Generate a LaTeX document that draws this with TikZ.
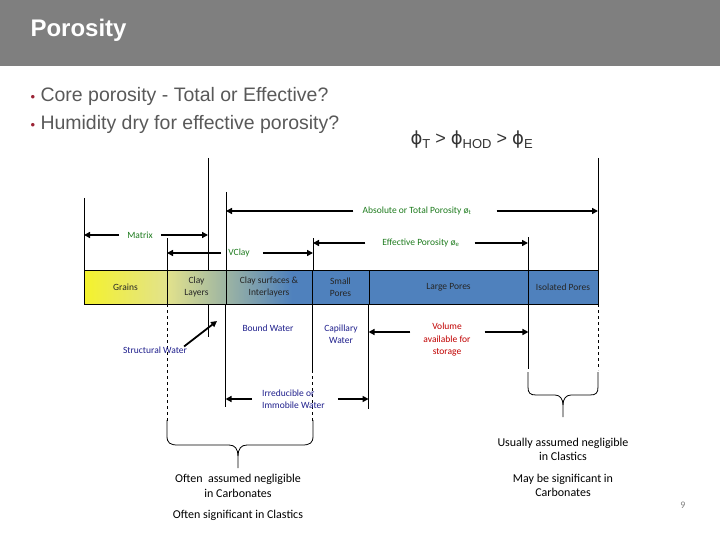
\documentclass[tikz,border=0pt]{standalone}
\usepackage{fontspec}
\setmainfont{Carlito}
\newfontfamily\arialfont{Liberation Sans}
\newfontfamily\phifont{DejaVu Sans}
\usetikzlibrary{arrows.meta}

\definecolor{hdrgray}{HTML}{7F7F7F}
\definecolor{txtgray}{HTML}{595959}
\definecolor{bulred}{HTML}{9B2335}
\definecolor{lblgreen}{HTML}{1E7B1E}
\definecolor{lblnavy}{HTML}{1F1F8C}
\definecolor{lblred}{HTML}{C00000}
\definecolor{bandyel}{HTML}{F4F22C}
\definecolor{bandpale}{HTML}{E2E28C}
\definecolor{bandblue}{HTML}{4F81BD}

\newcommand{\phisub}[1]{{\phifont ϕ}\raisebox{-4pt}{\fontsize{13}{13}\selectfont #1}}

\tikzset{
  lbl/.style={font=\fontsize{9.5}{12}\selectfont, inner sep=0pt, align=center},
  dimarrow/.style={line width=1.8pt, -{Triangle[length=6pt,width=6pt]}},
  bound/.style={line width=0.8pt},
  cell/.style={draw, line width=0.9pt, minimum height=34, inner sep=0pt,
    font=\fontsize{9.5}{12}\selectfont, align=center, text=black!85},
  note/.style={font=\fontsize{12}{14.5}\selectfont, align=center}
}

\begin{document}
\begin{tikzpicture}[x=1pt,y=-1pt]
  \useasboundingbox (0,0) rectangle (720,540);

  % header
  \fill[hdrgray] (0,0) rectangle (720,66);
  \node[anchor=west, text=white, font=\arialfont\bfseries\fontsize{24}{28}\selectfont] (title) at (27,30) {Porosity};

  % bullets
  \node[anchor=west, text=txtgray, font=\arialfont\fontsize{19.5}{22}\selectfont] (bull1) at (27,96) {{\color{bulred}\fontsize{13}{13}\selectfont•} Core porosity - Total or Effective?};
  \node[anchor=west, text=txtgray, font=\arialfont\fontsize{19.5}{22}\selectfont] (bull2) at (27,124) {{\color{bulred}\fontsize{13}{13}\selectfont•} Humidity dry for effective porosity?};
  \node[anchor=west, text=black!80, font=\arialfont\fontsize{18}{20}\selectfont] (phirel) at (407,140) {\phisub{T} > \phisub{HOD} > \phisub{E}};

  % shaded band
  \shade[left color=bandyel, right color=bandpale] (84,270) rectangle (167,304);
  \shade[left color=bandpale, right color=bandblue] (167,270) rectangle (292,304);
  \fill[bandblue] (292,270) rectangle (598,304);

  \node[cell, minimum width=83] (grains) at (125.5,287) {Grains};
  \node[cell, minimum width=59] (claylay) at (196.5,287) {Clay\\Layers};
  \node[cell, minimum width=86] (claysurf) at (269,287) {Clay surfaces \&\\Interlayers};
  \node[cell, minimum width=57] (smallp) at (340.5,287) {Small\\Pores};
  \node[cell, minimum width=159] (largep) at (448.5,287) {Large Pores};
  \node[cell, minimum width=70] (isolp) at (563,287) {Isolated Pores};

  % tops of the boundary lines
  \coordinate (m0) at (84,198);
  \coordinate (m1) at (208,158);
  \coordinate (t0) at (226,192);
  \coordinate (t1) at (598,158);
  \coordinate (v0) at (167,238);
  \coordinate (v1) at (313,238);
  \coordinate (e1) at (528,237);

  \draw[bound] (m0) -- (m0 |- grains.north);
  \draw[bound] (m1) -- (m1 |- grains.north);
  \draw[bound] (t0) -- (t0 |- grains.north);
  \draw[bound] (t1) -- (t1 |- grains.north);
  \draw[bound] (v0) -- (v0 |- grains.north);
  \draw[bound] (v1) -- (v1 |- grains.north);
  \draw[bound] (e1) -- (e1 |- grains.north);

  % below the band
  \draw[bound] (m1 |- grains.south) -- ++(0,33);
  \draw[bound] (claysurf.south west) -- ++(0,103);
  \draw[bound, dashed] (grains.south east) -- ++(0,118);
  \draw[bound] (claysurf.south east) -- ++(0,66);
  \draw[bound, dashed] (claysurf.south east) ++(0,66) -- ++(0,52);
  \draw[bound] (largep.south west) -- ++(0,105);
  \draw[bound] (largep.south east) -- ++(0,65);
  \draw[bound, dashed] (isolp.south east) -- ++(0,66);

  % green labels
  \node[lbl, text=lblgreen] (total) at (417,211) {Absolute or Total Porosity ø\textsubscript{t}};
  \node[lbl, text=lblgreen] (matrix) at (140,235) {Matrix};
  \node[lbl, text=lblgreen, fill=white, inner xsep=1pt] (vclay) at (239,253) {VClay};
  \node[lbl, text=lblgreen] (effect) at (421,243) {Effective Porosity ø\textsubscript{e}};

  \draw[dimarrow] ([xshift=-9pt]total.west) -- (total.west -| t0);
  \draw[dimarrow] ([xshift=25pt]total.east) -- (total.east -| t1);
  \draw[dimarrow] ([xshift=-8pt]matrix.west) -- (matrix.west -| m0);
  \draw[dimarrow] ([xshift=8pt]matrix.east) -- (matrix.east -| m1);
  \draw[dimarrow] ([xshift=-6pt]vclay.west) -- (vclay.west -| v0);
  \draw[dimarrow] ([xshift=12pt]vclay.east) -- (vclay.east -| v1);
  \draw[dimarrow] ([xshift=-17pt]effect.west) -- (effect.west -| v1);
  \draw[dimarrow] ([xshift=15pt]effect.east) -- (effect.east -| e1);

  % water labels
  \node[lbl, text=lblnavy] (bwater) at (268,328) {Bound Water};
  \node[lbl, text=lblnavy] (capwater) at (341,334) {Capillary\\Water};
  \node[lbl, text=lblnavy] (swater) at (155,350) {Structural Water};
  \node[lbl, text=lblnavy, align=left, anchor=west] (irred) at (262,399) {Irreducible or\\Immobile Water};
  \node[lbl, text=lblred, font=\fontsize{9.5}{12.5}\selectfont] (volume) at (447,340) {Volume\\available for\\storage};

  \coordinate (swtip) at (217,321);
  \draw[dimarrow] ([xshift=-3pt]swater.north east) -- (swtip);
  \draw[dimarrow] ([xshift=-10pt]irred.west) -- (irred.west -| claysurf.south west);
  \draw[dimarrow] ([xshift=13pt]irred.east) -- (irred.east -| largep.south west);
  \draw[dimarrow] ([xshift=-13pt,yshift=8pt]volume.west) -- ([yshift=8pt]volume.west -| largep.south west);
  \draw[dimarrow] ([xshift=14pt,yshift=8pt]volume.east) -- ([yshift=8pt]volume.east -| largep.south east);

  % braces
  \draw[bound] (167,420) -- (167,436) .. controls (167,443) and (170,445) .. (178,445) -- (229,445) .. controls (235,445) and (238,449) .. (238,456) -- (238,468);
  \draw[bound] (313,420) -- (313,436) .. controls (313,443) and (310,445) .. (302,445) -- (247,445) .. controls (241,445) and (238,449) .. (238,456);
  \draw[bound] (528,372) -- (528,387) .. controls (528,393) and (530,395) .. (536,395) -- (555,395) .. controls (560,395) and (563,399) .. (563,405) -- (563,417);
  \draw[bound] (598,372) -- (598,387) .. controls (598,393) and (596,395) .. (590,395) -- (571,395) .. controls (566,395) and (563,399) .. (563,405);

  % notes
  \node[note] (carbneg) at (238,486) {Often\ \ assumed negligible\\in Carbonates};
  \node[note] (clasig) at (238,515) {Often significant in Clastics};
  \node[note] (clasneg) at (563,449.5) {Usually assumed negligible\\in Clastics};
  \node[note] (carbsig) at (563,485.5) {May be significant in\\Carbonates};

  \node[text=black!50, font=\fontsize{10}{12}\selectfont] (pagenum) at (683,505) {9};
\end{tikzpicture}
\end{document}
